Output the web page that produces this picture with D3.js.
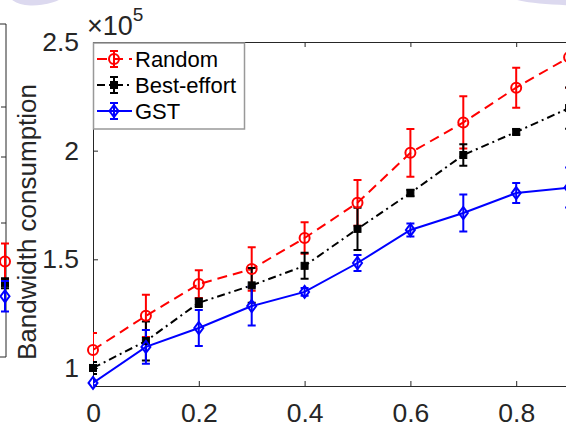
<!DOCTYPE html>
<html>
<head>
<meta charset="utf-8">
<script src="https://cdn.jsdelivr.net/npm/d3@7"></script>
<style>
  body { margin: 0; background: #fff; }
  text { font-family: "Liberation Sans", Arial, Helvetica, sans-serif; }
</style>
</head>
<body>
<div id="chart"></div>
<script>
// x values (fraction), y values in units of 1e5
const xs = [0, 0.1, 0.2, 0.3, 0.4, 0.5, 0.6, 0.7, 0.8, 0.9];
const randomVals = [1.083, 1.24, 1.386, 1.455, 1.598, 1.76, 1.99, 2.13, 2.29, 2.43];
const randomErr = [0.078, 0.097, 0.064, 0.1, 0.072, 0.105, 0.11, 0.12, 0.092, 0.14];
const bestVals = [1.0, 1.124, 1.30, 1.38, 1.47, 1.64, 1.805, 1.98, 2.086, 2.196];
const bestErr = [0.028, 0.09, 0.02, 0.08, 0.06, 0.097, 0.015, 0.05, 0.012, 0.095];
const gstVals = [0.931, 1.097, 1.184, 1.285, 1.35, 1.483, 1.635, 1.713, 1.805, 1.83];
const gstErr = [0.01, 0.078, 0.083, 0.09, 0.018, 0.037, 0.03, 0.085, 0.046, 0.092];

const yTicks = [1, 1.5, 2, 2.5];
const xTicks = [0, 0.2, 0.4, 0.6, 0.8, 1];
const seriesNames = ["Random", "Best-effort", "GST"];

// last points of the neighbouring panel (cut off at the left edge)
const leftVals = [1.49, 1.39, 1.33];
const leftErr = [0.083, 0.023, 0.07];
const leftTicks = [107, 157, 223];

const width = 566, height = 425;
const margin = {left: 93, top: 42, bottom: 39};
const ink = "#262626";

const svg = d3.select("#chart").append("svg")
    .attr("width", width)
    .attr("height", height)
    .style("background", "#fff");

// faint lavender shapes at the top edge
svg.append("ellipse").attr("cx", 40).attr("cy", -8).attr("rx", 30).attr("ry", 13)
    .attr("transform", "rotate(-8,40,-8)").attr("fill", "#dcd9ef");
svg.append("ellipse").attr("cx", 590).attr("cy", -4).attr("rx", 80).attr("ry", 9.6)
    .attr("fill", "#dcd9ef");

const x = d3.scaleLinear().domain([0, 1]).range([margin.left, margin.left + 529]);
const y = d3.scaleLinear().domain([0.917, 2.5]).range([height - margin.bottom, margin.top]);

// neighbouring panel frame
const lp = svg.append("g").attr("stroke", ink).attr("fill", "none").attr("stroke-width", 1);
lp.append("path").attr("d", "M0,24H6V357H0");
leftTicks.forEach(t => lp.append("line").attr("x1", 1).attr("x2", 6).attr("y1", t).attr("y2", t));

svg.append("defs").append("clipPath").attr("id", "plotclip")
  .append("rect")
    .attr("x", x(0)).attr("y", y(2.5))
    .attr("width", x(1) - x(0)).attr("height", y(0.917) - y(2.5));

// axes
const fmt = d => d3.format("")(d);
const yAxis = svg.append("g")
    .attr("transform", `translate(${x(0)},0)`)
    .call(d3.axisLeft(y).tickValues(yTicks).tickSizeInner(-5).tickSizeOuter(0).tickPadding(14).tickFormat(fmt));
const xAxis = svg.append("g")
    .attr("transform", `translate(0,${y(0.917)})`)
    .call(d3.axisBottom(x).tickValues(xTicks).tickSizeInner(-5).tickSizeOuter(0).tickPadding(17).tickFormat(fmt));
const xTop = svg.append("g")
    .attr("transform", `translate(0,${y(2.5)})`)
    .call(d3.axisTop(x).tickValues(xTicks).tickSizeInner(-5).tickSizeOuter(0).tickFormat(""));
[yAxis, xAxis, xTop].forEach(g => {
  g.select(".domain").attr("stroke", ink).attr("stroke-width", 1);
  g.selectAll(".tick line").attr("stroke", ink);
  g.selectAll("text").attr("fill", ink).style("font-size", "26.5px");
});

// exponent label
const expo = svg.append("text").attr("x", 87).attr("y", 35).attr("fill", ink).style("font-size", "27px");
expo.append("tspan").text("×10");
expo.append("tspan").attr("dy", -14).style("font-size", "19px").text("5");

// y label
svg.append("text")
    .attr("transform", `translate(36,${(86 + 358) / 2}) rotate(-90)`)
    .attr("text-anchor", "middle")
    .attr("fill", ink)
    .style("font-size", "26px")
    .text("Bandwidth consumption");

const series = [
  {name: seriesNames[0], vals: randomVals, err: randomErr, color: "#ff0000", dash: "10,6", marker: "circle"},
  {name: seriesNames[1], vals: bestVals, err: bestErr, color: "#000000", dash: "8,4,2,4", marker: "square"},
  {name: seriesNames[2], vals: gstVals, err: gstErr, color: "#0000ff", dash: null, marker: "diamond"}
];

function drawMarker(g, type, cx, cy, color) {
  if (type === "circle") {
    g.append("circle").attr("cx", cx).attr("cy", cy).attr("r", 5)
      .attr("fill", "none").attr("stroke", color).attr("stroke-width", 2);
  } else if (type === "square") {
    g.append("rect").attr("x", cx - 3.5).attr("y", cy - 3.5).attr("width", 7).attr("height", 7)
      .attr("fill", color).attr("stroke", color).attr("stroke-width", 1);
  } else {
    g.append("path").attr("d", `M${cx},${cy - 6}L${cx + 4.5},${cy}L${cx},${cy + 6}L${cx - 4.5},${cy}Z`)
      .attr("fill", "none").attr("stroke", color).attr("stroke-width", 2);
  }
}

function drawErr(g, cx, lo, hi, color) {
  const cap = 4;
  g.append("path")
    .attr("d", `M${cx},${lo}V${hi}M${cx - cap},${lo}H${cx + cap}M${cx - cap},${hi}H${cx + cap}`)
    .attr("stroke", color).attr("stroke-width", 2).attr("fill", "none");
}

const plot = svg.append("g");
const clipped = plot.append("g").attr("clip-path", "url(#plotclip)");
const line = d3.line().x((d, i) => x(xs[i])).y(d => y(d));

series.forEach(s => {
  clipped.append("path")
    .datum(s.vals)
    .attr("d", line)
    .attr("fill", "none")
    .attr("stroke", s.color)
    .attr("stroke-width", 2)
    .attr("stroke-dasharray", s.dash);
  s.vals.forEach((v, i) => drawErr(clipped, x(xs[i]), y(v - s.err[i]), y(v + s.err[i]), s.color));
});
series.forEach(s => {
  s.vals.forEach((v, i) => drawMarker(plot, s.marker, x(xs[i]), y(v), s.color));
});

// neighbouring panel markers
series.forEach((s, i) => {
  drawErr(svg, 5, y(leftVals[i] - leftErr[i]), y(leftVals[i] + leftErr[i]), s.color);
  drawMarker(svg, s.marker, 5, y(leftVals[i]), s.color);
});

// legend
const lg = svg.append("g");
lg.append("rect").attr("x", 93.5).attr("y", 43).attr("width", 151).attr("height", 86)
  .attr("fill", "#fff").attr("stroke", "#999").attr("stroke-width", 1.5);
const rowY = d3.scalePoint().domain(seriesNames).range([59, 111]);
series.forEach(s => {
  const ry = rowY(s.name);
  lg.append("line").attr("x1", 97).attr("x2", 132).attr("y1", ry).attr("y2", ry)
    .attr("stroke", s.color).attr("stroke-width", 2).attr("stroke-dasharray", s.dash);
  drawErr(lg, 114, ry - 8, ry + 8, s.color);
  drawMarker(lg, s.marker, 114, ry, s.color);
  lg.append("text").attr("x", 135).attr("y", ry).attr("dy", "0.36em")
    .attr("fill", "#000").style("font-size", "22px").text(s.name);
});
</script>
</body>
</html>
